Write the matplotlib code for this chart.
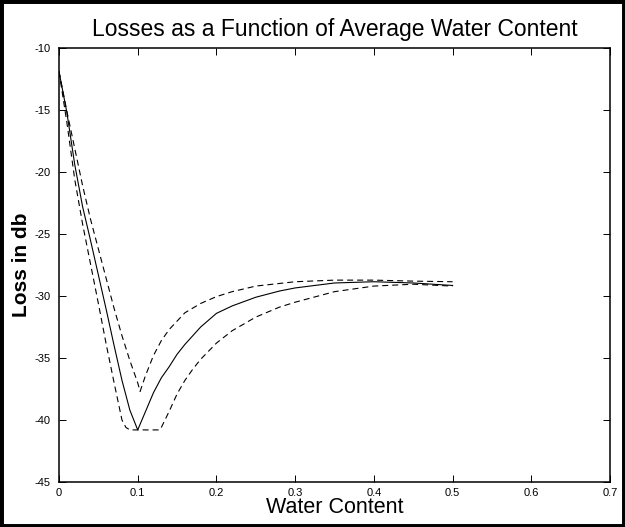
import matplotlib
matplotlib.use("Agg")
import matplotlib.pyplot as plt
from matplotlib.patches import Rectangle

plt.rcParams['font.family'] = ['Liberation Sans', 'DejaVu Sans']
plt.rcParams['axes.unicode_minus'] = False

# valores
x_solid = [0, 0.01, 0.02, 0.03, 0.04, 0.05, 0.06, 0.07, 0.08, 0.09, 0.1,
           0.11, 0.12, 0.13, 0.14, 0.15, 0.16, 0.18, 0.2, 0.22, 0.25, 0.28,
           0.3, 0.35, 0.4, 0.45, 0.5]
y_solid = [-11.9, -15.2, -19.4, -22.8, -25.5, -28.3, -31.1, -34.0, -36.8, -39.2, -40.8,
           -39.3, -37.8, -36.6, -35.7, -34.7, -33.9, -32.5, -31.4, -30.8, -30.1, -29.6,
           -29.35, -28.95, -28.85, -28.95, -29.15]

x_lower = [0, 0.01, 0.02, 0.03, 0.04, 0.05, 0.06, 0.07, 0.08, 0.085, 0.09,
           0.1, 0.11, 0.12, 0.128, 0.13, 0.14, 0.15, 0.16, 0.17, 0.18, 0.2,
           0.22, 0.25, 0.28, 0.3, 0.35, 0.4, 0.45, 0.5]
y_lower = [-11.9, -16.0, -20.6, -24.2, -27.4, -30.6, -33.9, -37.0, -40.0, -40.6, -40.8,
           -40.8, -40.8, -40.8, -40.8, -40.6, -39.3, -37.9, -36.8, -35.9, -35.1, -33.8,
           -32.8, -31.7, -30.9, -30.5, -29.65, -29.2, -29.05, -29.2]

x_upper = [0, 0.01, 0.02, 0.03, 0.04, 0.05, 0.06, 0.07, 0.08, 0.09, 0.1, 0.103,
           0.11, 0.12, 0.13, 0.14, 0.16, 0.18, 0.2, 0.22, 0.25, 0.3, 0.35, 0.4,
           0.45, 0.5]
y_upper = [-11.9, -15.1, -18.1, -21.1, -23.8, -26.2, -28.6, -31.0, -33.2, -35.2, -37.0, -37.7,
           -36.4, -34.8, -33.6, -32.7, -31.35, -30.6, -30.05, -29.65, -29.2, -28.85, -28.72, -28.72,
           -28.8, -28.85]

x_ticks = [0, 0.1, 0.2, 0.3, 0.4, 0.5, 0.6, 0.7]
x_tick_labels = ['0', '0.1', '0.2', '0.3', '0.4', '0.5', '0.6', '0.7']
y_ticks = [-45, -40, -35, -30, -25, -20, -15, -10]

fig = plt.figure(figsize=(6.25, 5.27), dpi=100)
ax = fig.add_axes([0.0944, 0.0854, 0.8816, 0.8235])

ax.plot(x_solid, y_solid, color='black', linewidth=0.8)
ax.plot(x_lower, y_lower, color='black', linewidth=0.8, dashes=(5.4, 3.6))
ax.plot(x_upper, y_upper, color='black', linewidth=0.8, dashes=(5.4, 3.6))

ax.set_xlim(0, 0.7)
ax.set_ylim(-45, -10)
ax.set_xticks(x_ticks)
ax.set_xticklabels(x_tick_labels)
ax.set_yticks(y_ticks)
ax.tick_params(direction='in', top=True, right=True, length=5, width=0.7,
               labelsize=8)
ax.tick_params(axis='x', pad=4)
ax.tick_params(axis='y', pad=6)
for s in ax.spines.values():
    s.set_linewidth(1.1)

ax.set_title('Losses as a Function of Average Water Content', fontsize=16.5, pad=9)
ax.set_xlabel('Water Content', fontsize=15.5)
ax.xaxis.set_label_coords(0.5, -0.035)
ax.set_ylabel('Loss in db', fontsize=15, fontweight='bold')
ax.yaxis.set_label_coords(-0.05, 0.5)

# marco negro alrededor de la figura
fig.patches.append(Rectangle((0, 0), 1, 1, transform=fig.transFigure,
                             fill=False, edgecolor='black', linewidth=5,
                             clip_on=False))

fig.savefig('out.png', dpi=100)
